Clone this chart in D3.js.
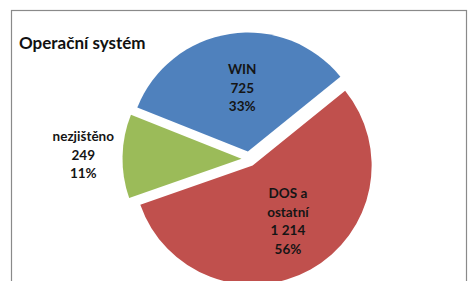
<!DOCTYPE html>
<html>
<head>
<meta charset="utf-8">
<script src="https://cdn.jsdelivr.net/npm/d3@7"></script>
<style>
    body { margin: 0; background: #fff; }
    svg { display: block; }
</style>
</head>
<body>
<div id="chart"></div>
<script>
// data
let categories = ["DOS a ostatní", "nezjištěno", "WIN"];
let labelLines = [["DOS a", "ostatní"], ["nezjištěno"], ["WIN"]];
let counts = [1214, 249, 725];
let pctLabels = ["56%", "11%", "33%"];
let colors = ["#C0504D", "#9BBB59", "#4F81BD"];

let width = 469, height = 281;

let svg = d3.select("#chart").append("svg")
    .attr("width", width)
    .attr("height", height);

// chart frame (runs past the bottom edge)
svg.append("rect")
    .attr("x", 11.5)
    .attr("y", 10.5)
    .attr("width", 455)
    .attr("height", 320)
    .attr("fill", "none")
    .attr("stroke", "#8a8a8a")
    .attr("stroke-width", 1.2);

// title
svg.append("text")
    .attr("x", 19)
    .attr("y", 49)
    .attr("font-family", "Lato, 'Noto Sans', sans-serif")
    .attr("font-weight", "bold")
    .attr("font-size", "17px")
    .attr("fill", "#111")
    .text("Operační systém");

let cx = 249, cy = 159, radius = 119, explode = 7.5;
let startAngle = 51 * Math.PI / 180;

let pie = d3.pie()
    .sort(null)
    .value(d => d.count)
    .startAngle(startAngle)
    .endAngle(startAngle + 2 * Math.PI);

let data = categories.map((c, i) => ({
    name: c, lines: labelLines[i], count: counts[i], pct: pctLabels[i], color: colors[i]
}));

let arcs = pie(data);

let arc = d3.arc().innerRadius(0).outerRadius(radius);
let innerLabelArc = d3.arc().innerRadius(radius * 0.54).outerRadius(radius * 0.54);
let outerLabelArc = d3.arc().innerRadius(radius * 1.33).outerRadius(radius * 1.33);

let fmt = d3.formatLocale({decimal: ",", thousands: "\u00a0", grouping: [3], currency: ["", " Kč"]}).format(",d");

let g = svg.append("g")
    .attr("transform", `translate(${cx}, ${cy})`);

let slices = g.selectAll(".slice")
    .data(arcs)
    .enter()
    .append("g")
    .attr("class", "slice")
    .attr("transform", d => {
        let mid = (d.startAngle + d.endAngle) / 2;
        return `translate(${Math.sin(mid) * explode}, ${-Math.cos(mid) * explode})`;
    });

slices.append("path")
    .attr("d", arc)
    .attr("fill", d => d.data.color);

// labels: small slices get their label outside
let lineH = 18.5;
slices.each(function (d) {
    let small = (d.endAngle - d.startAngle) < 0.9;
    let pos = small ? outerLabelArc.centroid(d) : innerLabelArc.centroid(d);
    let lines = d.data.lines.concat([fmt(d.data.count), d.data.pct]);
    let t = d3.select(this).append("text")
        .attr("text-anchor", "middle")
        .attr("font-family", "Lato, 'Noto Sans', sans-serif")
        .attr("font-weight", "bold")
        .attr("font-size", "13.5px")
        .attr("fill", "#151515");
    lines.forEach((l, i) => {
        t.append("tspan")
            .attr("x", pos[0] + (small ? 0 : 4))
            .attr("y", pos[1] + (i - (lines.length - 1) / 2) * lineH + 4.5)
            .text(l);
    });
});
</script>
</body>
</html>
